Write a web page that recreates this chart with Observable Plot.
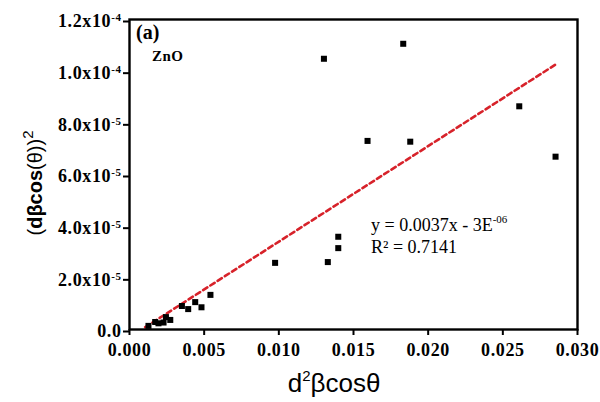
<!DOCTYPE html>
<html>
<head>
<meta charset="utf-8">
<script src="https://cdn.jsdelivr.net/npm/d3@7"></script>
<script src="https://cdn.jsdelivr.net/npm/@observablehq/plot@0.6"></script>
<style>
  html, body { margin: 0; padding: 0; background: #fff; }
  #chart svg { display: block; }
</style>
</head>
<body>
<div id="chart"></div>
<script>
// ---- data ----
const xValues = [0.00127, 0.00172, 0.00194, 0.00228, 0.00244, 0.00273, 0.00351, 0.00393, 0.00440, 0.00482, 0.00542,
                 0.00975, 0.01328, 0.01398, 0.01398, 0.01302, 0.01833, 0.01594, 0.01880, 0.02610, 0.02853];
const yValues = [1.4e-6, 2.9e-6, 2.4e-6, 2.7e-6, 4.8e-6, 3.7e-6, 9.1e-6, 7.9e-6, 1.06e-5, 8.6e-6, 1.34e-5,
                 2.58e-5, 2.61e-5, 3.15e-5, 3.59e-5, 1.048e-4, 1.106e-4, 7.30e-5, 7.27e-5, 8.64e-5, 6.69e-5];

// fitted line as printed on the chart
const fitSlope = 0.0037;
const fitIntercept = -3e-6;
const fitXRange = [0.00105, 0.0286];

const xTicks = [0, 0.005, 0.010, 0.015, 0.020, 0.025, 0.030];
const xTickLabels = ["0.000", "0.005", "0.010", "0.015", "0.020", "0.025", "0.030"];
const yTicks = [0, 2e-5, 4e-5, 6e-5, 8e-5, 1.0e-4, 1.2e-4];
const yTickMantissa = ["0.0", "2.0x10", "4.0x10", "6.0x10", "8.0x10", "1.0x10", "1.2x10"];
const yTickExponent = ["", "-5", "-5", "-5", "-5", "-4", "-4"];

const points = xValues.map((x, i) => ({x, y: yValues[i]}));
const fitLine = fitXRange.map(x => ({x, y: fitSlope * x + fitIntercept}));

const serif = "'Liberation Serif', 'Times New Roman', serif";
const sans = "'Liberation Sans', Arial, sans-serif";

const plot = Plot.plot({
  width: 600,
  height: 402,
  marginLeft: 129,
  marginRight: 23,
  marginTop: 19,
  marginBottom: 73,
  style: {background: "#fff", overflow: "visible"},
  x: {domain: [0, 0.030]},
  y: {domain: [0, 1.2e-4]},
  marks: [
    Plot.line(fitLine, {x: "x", y: "y", stroke: "#d7222a", strokeWidth: 2.6, strokeDasharray: "5,3.6"}),
    Plot.dot(points, {x: "x", y: "y", symbol: "square", r: 3.4, fill: "#000", stroke: "none"}),
    Plot.frame({stroke: "#000", strokeWidth: 2.4}),
    Plot.axisX({
      ticks: xTicks,
      tickFormat: d => xTickLabels[xTicks.indexOf(d)],
      tickSize: 6, tickPadding: 8, strokeWidth: 2,
      label: null, fontSize: 18
    }),
    Plot.axisY({
      ticks: yTicks,
      tickFormat: d => { const i = yTicks.indexOf(d); return yTickMantissa[i] + (yTickExponent[i] ? "^" + yTickExponent[i] : ""); },
      tickSize: 6, tickPadding: 2, strokeWidth: 2, dy: 2,
      label: null, fontSize: 18
    })
  ]
});

document.getElementById("chart").appendChild(plot);

const svg = d3.select(plot);

// superscripts for y tick labels
svg.selectAll('g[aria-label="y-axis tick label"] text').each(function () {
  const t = d3.select(this);
  const s = t.text();
  const [base, exp] = s.split("^");
  t.text(null);
  t.append("tspan").text(base);
  if (exp) {
    t.append("tspan").attr("dy", "-0.55em").style("font-size", "11px").text(exp);
  }
});
svg.selectAll('g[aria-label="x-axis tick label"] text, g[aria-label="y-axis tick label"] text')
  .style("font-family", serif).style("font-weight", "bold").style("letter-spacing", "0.6px").attr("fill", "#000");

function addText(x, y, size, family) {
  return svg.append("text").attr("x", x).attr("y", y)
    .attr("text-anchor", "start")
    .style("font-family", family).style("font-size", size + "px").attr("fill", "#000");
}

// axis titles
const xTitle = addText(334, 391.5, 26, sans).attr("text-anchor", "middle");
xTitle.append("tspan").text("d");
xTitle.append("tspan").style("font-size", "15px").attr("dy", "-0.72em").text("2");
xTitle.append("tspan").attr("dy", "0.42em").text("βcosθ");

const yTitle = svg.append("text")
  .attr("transform", "translate(42,183) rotate(-90)")
  .attr("text-anchor", "middle")
  .style("font-family", sans).style("font-size", "20px").attr("fill", "#000");
yTitle.append("tspan").text("(");
yTitle.append("tspan").style("font-weight", "bold").text("dβcos");
yTitle.append("tspan").text("(θ))");
yTitle.append("tspan").style("font-size", "15px").attr("dy", "-0.6em").text("2");

// annotations
addText(136, 39, 20, serif).style("font-weight", "bold").text("(a)");
addText(152, 61, 15, serif).style("font-weight", "bold").style("letter-spacing", "0.5px").text("ZnO");

const eq = addText(371, 231, 18, serif);
eq.append("tspan").text("y = 0.0037x - 3E");
eq.append("tspan").style("font-size", "11px").attr("dy", "-0.75em").text("-06");
addText(371, 253, 18, serif).text("R² = 0.7141");
</script>
</body>
</html>
